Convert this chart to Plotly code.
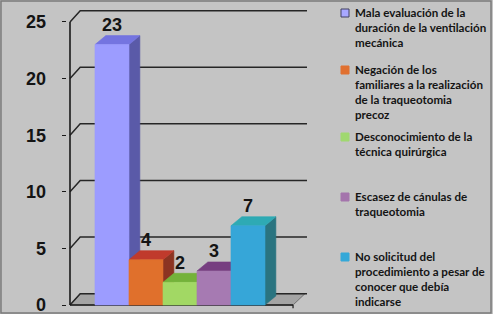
import plotly.graph_objects as go

# ---- data ----
categories = [
    "Mala evaluación de la<br>duración de la ventilación<br>mecánica",
    "Negación de los<br>familiares a la realización<br>de la traqueotomia<br>precoz",
    "Desconocimiento de la<br>técnica quirúrgica",
    "Escasez de cánulas de<br>traqueotomia",
    "No solicitud del<br>procedimiento a pesar de<br>conocer que debía<br>indicarse",
]
values = [23, 4, 2, 3, 7]
tick_vals = [0, 5, 10, 15, 20, 25]

front_cols = ["#9c9cff", "#e0702c", "#a2d864", "#a67ab2", "#36a6d8"]
top_cols = ["#7474e0", "#c03a2c", "#74b23a", "#763e80", "#2eaab4"]
side_cols = ["#5a5aa8", "#8c3422", "#5c8c32", "#664672", "#2a7480"]
legend_cols = ["#a8a8ff", "#e07030", "#a0d870", "#a474ac", "#34a8d8"]

W, H = 493, 314
BG = "#c4c4c4"

# geometry (in axis units)
bar_w = 1.0
bar_x0 = 0.735
bdx, bdy = 0.32, 0.8      # bar depth offset
wdx, wdy = 0.30, 1.0      # wall depth offset
grid_end = 6.97
floor_end = 6.56

fig = go.Figure()

def poly(xs, ys, color, lw=0.6, lc=None):
    fig.add_trace(go.Scatter(x=xs + [xs[0]], y=ys + [ys[0]], mode="lines",
                             fill="toself", fillcolor=color,
                             line=dict(color=lc or color, width=lw),
                             hoverinfo="skip", showlegend=False))

def line(xs, ys, color="#262626", w=1.5):
    fig.add_trace(go.Scatter(x=xs, y=ys, mode="lines",
                             line=dict(color=color, width=w),
                             hoverinfo="skip", showlegend=False))

# floor
poly([0, floor_end, floor_end + wdx + 0.05, wdx], [0, 0, wdy, wdy], "#a4a4a4", lw=1, lc="#707070")

# gridlines with diagonals
for t in tick_vals:
    line([0, wdx, grid_end], [t, t + wdy, t + wdy])

# axis lines
line([0, 0], [0, 25], "#1a1a1a", 1.6)
line([0, floor_end], [0, 0], "#1a1a1a", 1.4)
line([floor_end, floor_end], [0, -0.3], "#1a1a1a", 1.2)

# bars (3D)
for i, v in enumerate(values):
    x0 = bar_x0 + i * bar_w
    x1 = x0 + bar_w
    poly([x1, x1 + bdx, x1 + bdx, x1], [0, bdy, v + bdy, v], side_cols[i])
    poly([x0, x0 + bdx, x1 + bdx, x1], [v, v + bdy, v + bdy, v], top_cols[i])
    poly([x0, x1, x1, x0], [0, 0, v, v], front_cols[i])

# value labels
fig.add_trace(go.Scatter(
    x=[bar_x0 + i * bar_w + bar_w / 2 for i in range(len(values))],
    y=[v + bdy for v in values], mode="text",
    text=["<b>%d</b>" % v for v in values], textposition="top center",
    textfont=dict(family="Liberation Sans, Arial", size=18, color="#141414"),
    hoverinfo="skip", showlegend=False, cliponaxis=False))

# legend (annotations + squares)
leg_first_line_y = [13, 70, 137, 197, 257]
line_h = 16
for i, (name, y) in enumerate(zip(categories, leg_first_line_y)):
    fig.add_annotation(x=353 / W, y=1 - (y - line_h / 2 - 1) / H, xref="paper", yref="paper",
                       xanchor="left", yanchor="top", align="left", showarrow=False,
                       text="<b>" + name + "</b>",
                       font=dict(family="Lato", size=11.6, color="#141414", weight="bold"))
    fig.add_shape(type="rect", xref="paper", yref="paper",
                  x0=341 / W, x1=349 / W, y0=1 - (y + 4) / H, y1=1 - (y - 4) / H,
                  fillcolor=legend_cols[i],
                  line=dict(color="#404060" if i == 0 else legend_cols[i], width=1))

# outer border
fig.add_shape(type="rect", xref="paper", yref="paper", x0=0.002, x1=0.996, y0=0.003, y1=0.997,
              line=dict(color="#7a7a7a", width=1.5))

x_lo = -0.1
x_hi = (310 - 70) / 34
fig.update_layout(
    width=W, height=H,
    margin=dict(l=0, r=0, t=0, b=0, autoexpand=False),
    paper_bgcolor=BG, plot_bgcolor=BG,
    xaxis=dict(domain=[(70 + x_lo * 34) / W, 310 / W], range=[x_lo, x_hi],
               visible=False, fixedrange=True, automargin=False),
    yaxis=dict(domain=[(314 - 308.4) / H, (314 - 5) / H], range=[-0.3, 26.5],
               tickvals=tick_vals, ticktext=["<b>%d</b>" % t for t in tick_vals],
               ticks="outside", ticklen=4, tickcolor="#1a1a1a",
               tickwidth=1.4, showgrid=False, zeroline=False, showline=False,
               ticklabelstandoff=12, ticklabeloverflow="allow", automargin=False,
               tickfont=dict(family="Liberation Sans, Arial", size=18, color="#141414"),
               fixedrange=True),
    showlegend=False,
)

fig.write_html("out.html")
